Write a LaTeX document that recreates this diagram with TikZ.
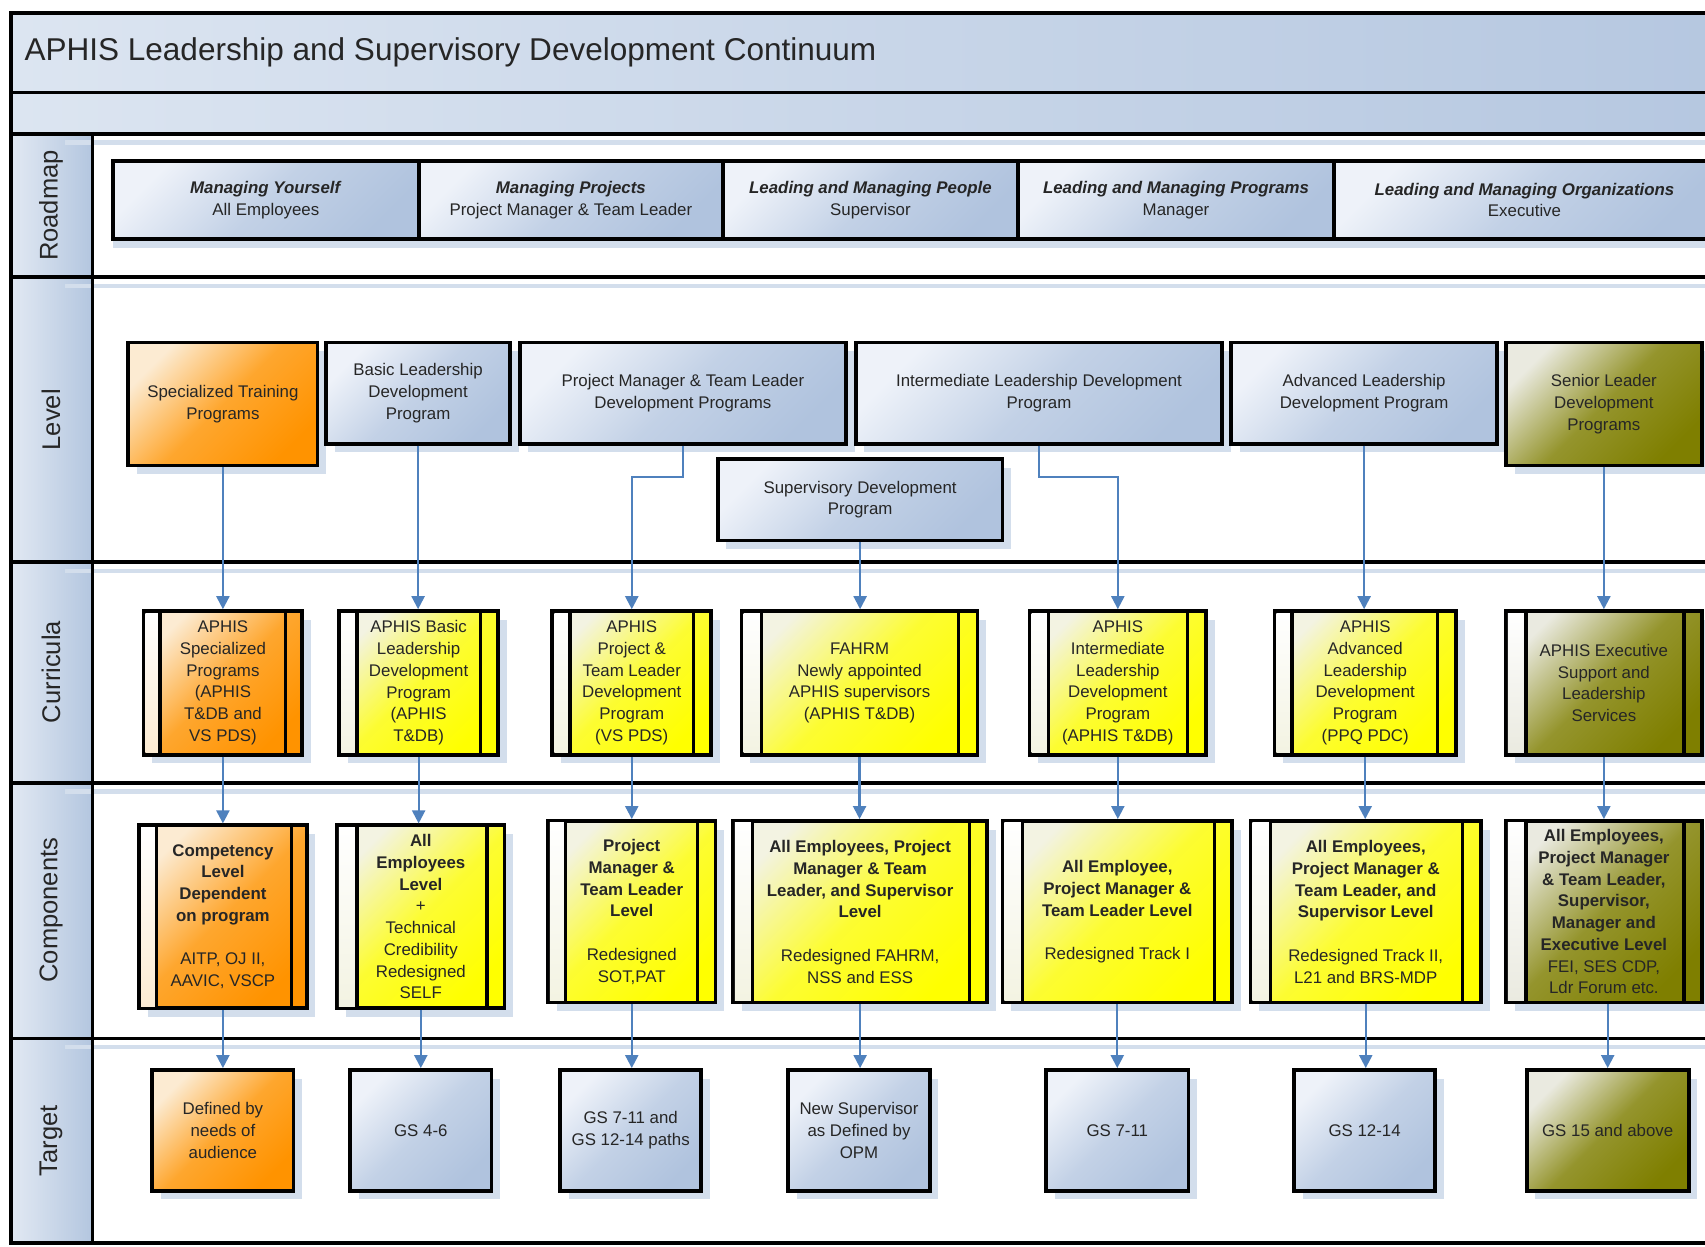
\documentclass[tikz,border=0pt]{standalone}
\usepackage{fontspec}
\setmainfont{Liberation Sans}
\usetikzlibrary{shadows,arrows.meta}
\definecolor{bluehi}{HTML}{EEF2F9}
\definecolor{bluelo}{HTML}{B0C3DE}
\definecolor{orghi}{HTML}{FCEBD2}
\definecolor{orglo}{HTML}{FF9300}
\definecolor{yelhi}{HTML}{F3F3E2}
\definecolor{yello}{HTML}{FFFF00}
\definecolor{olvhi}{HTML}{EAEAE0}
\definecolor{olvlo}{HTML}{7F7F00}
\definecolor{arrowblue}{HTML}{4F81BD}
\definecolor{shadowblue}{HTML}{D3DEEC}
\definecolor{txtc}{HTML}{262626}
\definecolor{bandhi}{HTML}{DCE5F1}
\definecolor{bandlo}{HTML}{B5C7E0}
\definecolor{lblhi}{HTML}{E2E9F3}
\definecolor{lbllo}{HTML}{B3C6DF}
\tikzset{
  boxbase/.style={draw=black, line width=3.5pt, text=txtc, align=center, inner sep=1pt,
    font=\fontsize{15.5}{20}\selectfont},
  shad/.style={drop shadow={shadow xshift=8pt, shadow yshift=-8pt, fill=shadowblue, opacity=1}},
  bluebox/.style={boxbase, shad, top color=bluehi, bottom color=bluelo, middle color=bluelo!70!bluehi, shading angle=45},
  orangebox/.style={boxbase, shad, top color=orghi, bottom color=orglo, middle color=orglo!78!orghi, shading angle=45},
  yellowbox/.style={boxbase, shad, top color=yelhi, bottom color=yello, middle color=yello!78!yelhi, shading angle=45},
  olivebox/.style={boxbase, shad, top color=olvhi, bottom color=olvlo, middle color=olvlo!80!olvhi, shading angle=45},
  roadbox/.style={boxbase, drop shadow={shadow xshift=0pt, shadow yshift=-8pt, fill=shadowblue, opacity=1},
    top color=bluehi, bottom color=bluelo, middle color=bluelo!70!bluehi, shading angle=45},
  conn/.style={draw=arrowblue, line width=2pt, -{Triangle[width=12pt,length=12pt]}},
  lanelabel/.style={rotate=90, font=\fontsize{23.5}{26}\selectfont, text=txtc},
  sepline/.style={line width=3.5pt, draw=black},
  laneshadow/.style={line width=4pt, draw=shadowblue},
  barline/.style={line width=3pt, draw=black},
  strip/.style={top color=white, bottom color=#1},
}
\newcommand\mkbox[7]{\node[#1, minimum width={#5-#3}, minimum height={#6-#4}] (#2) at ({(#3+#5)/2},{(#4+#6)/2}) {#7};}
\newcommand\mkbars[4]{%
  \fill[strip=#4] ([xshift=3.5pt,yshift=-3.5pt]#1.north west) rectangle ([xshift=#2pt,yshift=3.5pt]#1.south west);
  \draw[barline] ([xshift=#2pt,yshift=-1.75pt]#1.north west) -- ([xshift=#2pt,yshift=1.75pt]#1.south west);
  \draw[barline] ([xshift=-#3pt,yshift=-1.75pt]#1.north east) -- ([xshift=-#3pt,yshift=1.75pt]#1.south east);}
\begin{document}
\begin{tikzpicture}[x=1pt,y=-1pt]
\useasboundingbox (0,0) rectangle (1568,1146);
\clip (0,0) rectangle (1568,1146);
\fill[white] (0,0) rectangle (1568,1146);
% bands
\shade[left color=bandhi, right color=bandlo] (10,12) rectangle (1600,85);
\shade[left color=bandhi, right color=bandlo] (10,85) rectangle (1600,123);
\shade[left color=lblhi, right color=lbllo] (10,123) rectangle (85,1143);
% lane shadows
\foreach \yy in {131,263,525,728,963} { \draw[laneshadow] (60,\yy) -- (1600,\yy); }
% separators
\draw[sepline] (10,12) rectangle (1590,1143);
\foreach \yy in {85,123,255,517,720,955} { \draw[sepline] (10,\yy) -- (1600,\yy); }
\draw[sepline] (85,123) -- (85,1143);
% title
\node[anchor=west, font=\fontsize{29}{33}\selectfont, text=txtc] (title) at (19,48) {APHIS Leadership and Supervisory Development Continuum};
% lane labels
\node[lanelabel] (lbroad) at (47,189) {Roadmap};
\node[lanelabel] (lblevel) at (47,386) {Level};
\node[lanelabel] (lbcurr) at (47,618) {Curricula};
\node[lanelabel] (lbcomp) at (47,837) {Components};
\node[lanelabel] (lbtarg) at (47,1049) {Target};
% roadmap
\mkbox{roadbox}{rm1}{104}{148}{385}{220}{\textbf{\textit{Managing Yourself}}\\All Employees}
\mkbox{roadbox}{rm2}{385}{148}{665}{220}{\textbf{\textit{Managing Projects}}\\Project Manager \& Team Leader}
\mkbox{roadbox}{rm3}{665}{148}{936}{220}{\textbf{\textit{Leading and Managing People}}\\Supervisor}
\mkbox{roadbox}{rm4}{936}{148}{1227}{220}{\textbf{\textit{Leading and Managing Programs}}\\Manager}
\mkbox{roadbox}{rm5}{1227}{148}{1577}{220}{\textbf{\textit{Leading and Managing Organizations}}\\Executive}
% level
\mkbox{orangebox}{lv1}{118}{315}{292}{428}{Specialized Training\\Programs}
\mkbox{bluebox}{lv2}{300}{315}{469}{408}{Basic Leadership\\Development\\Program}
\mkbox{bluebox}{lv3}{478}{315}{778}{408}{Project Manager \& Team Leader\\Development Programs}
\mkbox{bluebox}{lv4}{787}{315}{1124}{408}{Intermediate Leadership Development\\Program}
\mkbox{bluebox}{lv5}{1132}{315}{1377}{408}{Advanced Leadership\\Development Program}
\mkbox{olivebox}{lv6}{1385}{315}{1565}{428}{Senior Leader\\Development\\Programs}
\mkbox{bluebox}{lv7}{660}{422}{922}{497}{Supervisory Development\\Program}
% curricula
\mkbox{orangebox}{cu1}{132}{562}{278}{694}{APHIS\\Specialized\\Programs\\(APHIS\\T\&DB and\\VS PDS)}
\mkbars{cu1}{17}{17}{orghi}
\mkbox{yellowbox}{cu2}{312}{562}{458}{694}{APHIS Basic\\Leadership\\Development\\Program\\(APHIS\\T\&DB)}
\mkbars{cu2}{18}{18}{yelhi}
\mkbox{yellowbox}{cu3}{508}{562}{654}{694}{APHIS\\Project \&\\Team Leader\\Development\\Program\\(VS PDS)}
\mkbars{cu3}{18}{18}{yelhi}
\mkbox{yellowbox}{cu4}{682}{562}{899}{694}{FAHRM\\Newly appointed\\APHIS supervisors\\(APHIS T\&DB)}
\mkbars{cu4}{20}{19}{yelhi}
\mkbox{yellowbox}{cu5}{947}{562}{1109}{694}{APHIS\\Intermediate\\Leadership\\Development\\Program\\(APHIS T\&DB)}
\mkbars{cu5}{19}{19}{yelhi}
\mkbox{yellowbox}{cu6}{1172}{562}{1339}{694}{APHIS\\Advanced\\Leadership\\Development\\Program\\(PPQ PDC)}
\mkbars{cu6}{18}{19}{yelhi}
\mkbox{olivebox}{cu7}{1385}{562}{1565}{694}{APHIS Executive\\Support and\\Leadership\\Services}
\mkbars{cu7}{20}{18}{olvhi}
% components
\mkbox{orangebox}{co1}{128}{759}{282}{927}{\textbf{Competency}\\\textbf{Level}\\\textbf{Dependent}\\\textbf{on program}\\[20pt]AITP, OJ II,\\AAVIC, VSCP}
\mkbars{co1}{18}{16}{orghi}
\mkbox{yellowbox}{co2}{310}{759}{464}{927}{\textbf{All}\\\textbf{Employees}\\\textbf{Level}\\+\\Technical\\Credibility\\Redesigned\\SELF}
\mkbars{co2}{20}{18}{yelhi}
\mkbox{yellowbox}{co3}{504}{755}{658}{922}{\textbf{Project}\\\textbf{Manager \&}\\\textbf{Team Leader}\\\textbf{Level}\\[20pt]Redesigned\\SOT,PAT}
\mkbars{co3}{18}{18}{yelhi}
\mkbox{yellowbox}{co4}{674}{755}{908}{922}{\textbf{All Employees, Project}\\\textbf{Manager \& Team}\\\textbf{Leader, and Supervisor}\\\textbf{Level}\\[20pt]Redesigned FAHRM,\\NSS and ESS}
\mkbars{co4}{20}{18}{yelhi}
\mkbox{yellowbox}{co5}{922}{755}{1133}{922}{\textbf{All Employee,}\\\textbf{Project Manager \&}\\\textbf{Team Leader Level}\\[20pt]Redesigned Track I}
\mkbars{co5}{20}{18}{yelhi}
\mkbox{yellowbox}{co6}{1150}{755}{1362}{922}{\textbf{All Employees,}\\\textbf{Project Manager \&}\\\textbf{Team Leader, and}\\\textbf{Supervisor Level}\\[20pt]Redesigned Track II,\\L21 and BRS-MDP}
\mkbars{co6}{20}{19}{yelhi}
\mkbox{olivebox}{co7}{1385}{755}{1565}{922}{\textbf{All Employees,}\\\textbf{Project Manager}\\\textbf{\& Team Leader,}\\\textbf{Supervisor,}\\\textbf{Manager and}\\\textbf{Executive Level}\\FEI, SES CDP,\\Ldr Forum etc.}
\mkbars{co7}{20}{18}{olvhi}
% targets
\mkbox{orangebox}{tg1}{140}{984}{270}{1095}{Defined by\\needs of\\audience}
\mkbox{bluebox}{tg2}{322}{984}{452}{1095}{GS 4-6}
\mkbox{bluebox}{tg3}{515}{984}{645}{1095}{GS 7-11 and\\GS 12-14 paths}
\mkbox{bluebox}{tg4}{725}{984}{855}{1095}{New Supervisor\\as Defined by\\OPM}
\mkbox{bluebox}{tg5}{962}{984}{1093}{1095}{GS 7-11}
\mkbox{bluebox}{tg6}{1190}{984}{1320}{1095}{GS 12-14}
\mkbox{olivebox}{tg7}{1404}{984}{1553}{1095}{GS 15 and above}
% connectors level -> curricula
\draw[conn] (lv1.south) -- (lv1.south |- cu1.north);
\draw[conn] (lv2.south) -- (lv2.south |- cu2.north);
\draw[conn] (lv3.south) -- ++(0,29) -| (cu3.north);
\draw[conn] (lv7.south) -- (lv7.south |- cu4.north);
\draw[conn] (lv4.south) -- ++(0,29) -| (cu5.north);
\draw[conn] (lv5.south) -- (lv5.south |- cu6.north);
\draw[conn] (lv6.south) -- (lv6.south |- cu7.north);
% curricula -> components
\draw[conn] (cu1.south) -- (cu1.south |- co1.north);
\draw[conn] (cu2.south) -- (cu2.south |- co2.north);
\draw[conn] (cu3.south) -- (cu3.south |- co3.north);
\draw[conn] (cu4.south) -- (cu4.south |- co4.north);
\draw[conn] (cu5.south) -- (cu5.south |- co5.north);
\draw[conn] (cu6.south) -- (cu6.south |- co6.north);
\draw[conn] (cu7.south) -- (cu7.south |- co7.north);
% components -> targets
\draw[conn] (co1.south) -- (co1.south |- tg1.north);
\draw[conn] (co2.south) -- (co2.south |- tg2.north);
\draw[conn] (co3.south) -- (co3.south |- tg3.north);
\draw[conn] (co4.south) -- (co4.south |- tg4.north);
\draw[conn] (co5.south) -- (co5.south |- tg5.north);
\draw[conn] (co6.south) -- (co6.south |- tg6.north);
\draw[conn] (tg7.north |- co7.south) -- (tg7.north);
\end{tikzpicture}
\end{document}
